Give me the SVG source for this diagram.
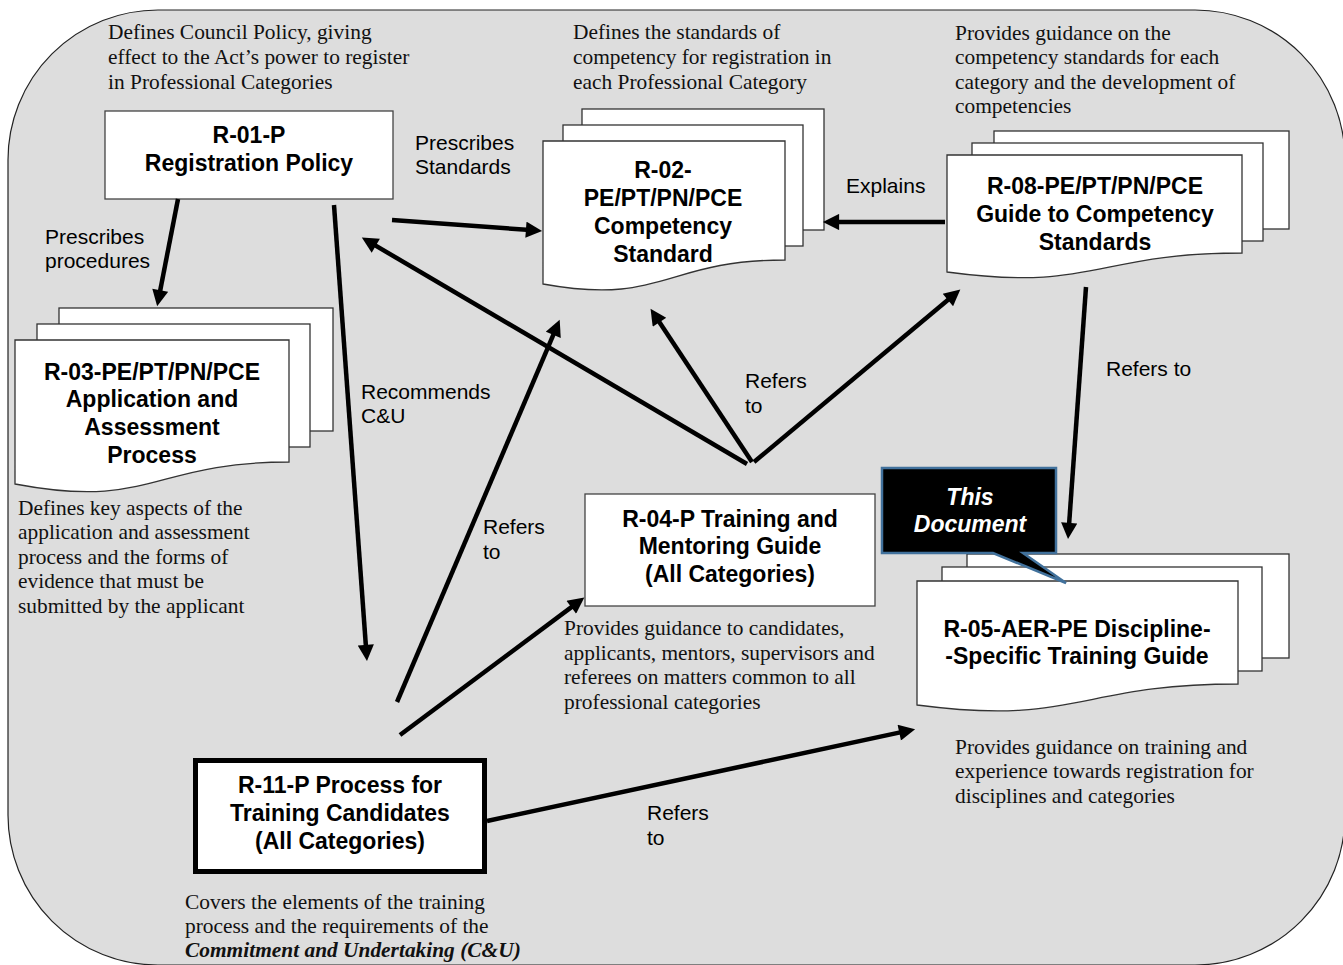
<svg xmlns="http://www.w3.org/2000/svg" width="1343" height="965" viewBox="0 0 1343 965">
<defs>
<style>
.bg{fill:#dddddd;stroke:#222;stroke-width:1.2}
.page{fill:#fff;stroke:#333;stroke-width:1.3}
.box{fill:#fff;stroke:#444;stroke-width:1.3}
.nt{font-family:"Liberation Sans",Arial,sans-serif;font-weight:bold;font-size:23px;fill:#000;text-anchor:middle}
.an{font-family:"Liberation Serif","Times New Roman",serif;font-size:21.4px;fill:#111}
.lb{font-family:"Liberation Sans",Arial,sans-serif;font-size:21px;fill:#000}
.cn{stroke:#000;stroke-width:4.5;fill:none;marker-end:url(#ah)}
</style>
<marker id="ah" viewBox="0 0 10 10" refX="5" refY="5" markerWidth="4" markerHeight="3.6" orient="auto" markerUnits="strokeWidth">
<path d="M0,0 L10,5 L0,10 Z" fill="#000"/>
</marker>
</defs>
<rect class="bg" x="8" y="10" width="1337" height="955" rx="150" ry="150"/>

<g id="r01">
<text class="an" x="108" y="39">Defines Council Policy, giving</text>
<text class="an" x="108" y="64">effect to the Act’s power to register</text>
<text class="an" x="108" y="89">in Professional Categories</text>
<rect class="box" x="105" y="111" width="288" height="88"/>
<text class="nt" x="249" y="143">R-01-P</text>
<text class="nt" x="249" y="171">Registration Policy</text>
</g>

<g id="r02">
<text class="an" x="573" y="39">Defines the standards of</text>
<text class="an" x="573" y="64">competency for registration in</text>
<text class="an" x="573" y="89">each Professional Category</text>
<rect class="page" x="582" y="109" width="242" height="121"/>
<rect class="page" x="563" y="125" width="240" height="121"/>
<path class="page" d="M543,141 H785 V260 C664,260 664,306 543,284 Z"/>
<text class="nt" x="663" y="178">R-02-</text>
<text class="nt" x="663" y="206">PE/PT/PN/PCE</text>
<text class="nt" x="663" y="234">Competency</text>
<text class="nt" x="663" y="262">Standard</text>
</g>

<g id="r08">
<text class="an" x="955" y="40">Provides guidance on the</text>
<text class="an" x="955" y="64">competency standards for each</text>
<text class="an" x="955" y="89">category and the development of</text>
<text class="an" x="955" y="113">competencies</text>
<rect class="page" x="994" y="131" width="295" height="98"/>
<rect class="page" x="972" y="143" width="291" height="98"/>
<path class="page" d="M947,155 H1242 V253 C1095,253 1095,292 947,272 Z"/>
<text class="nt" x="1095" y="194">R-08-PE/PT/PN/PCE</text>
<text class="nt" x="1095" y="222">Guide to Competency</text>
<text class="nt" x="1095" y="250">Standards</text>
</g>

<g id="r03">
<rect class="page" x="59" y="308" width="274" height="123"/>
<rect class="page" x="37" y="324" width="273" height="123"/>
<path class="page" d="M15,340 H289 V462 C152,462 152,510 15,484 Z"/>
<text class="nt" x="152" y="380">R-03-PE/PT/PN/PCE</text>
<text class="nt" x="152" y="407">Application and</text>
<text class="nt" x="152" y="435">Assessment</text>
<text class="nt" x="152" y="463">Process</text>
<text class="an" x="18" y="515">Defines key aspects of the</text>
<text class="an" x="18" y="539">application and assessment</text>
<text class="an" x="18" y="564">process and the forms of</text>
<text class="an" x="18" y="588">evidence that must be</text>
<text class="an" x="18" y="613">submitted by the applicant</text>
</g>

<g id="r04">
<rect class="box" x="585" y="494" width="290" height="112"/>
<text class="nt" x="730" y="527">R-04-P Training and</text>
<text class="nt" x="730" y="554">Mentoring Guide</text>
<text class="nt" x="730" y="582">(All Categories)</text>
<text class="an" x="564" y="635">Provides guidance to candidates,</text>
<text class="an" x="564" y="660">applicants, mentors, supervisors and</text>
<text class="an" x="564" y="684">referees on matters common to all</text>
<text class="an" x="564" y="709">professional categories</text>
</g>

<g id="r05">
<rect class="page" x="967" y="554" width="322" height="104"/>
<rect class="page" x="942" y="567" width="320" height="104"/>
<path class="page" d="M917,581 H1238 V684 C1078,684 1078,726 917,705 Z"/>
<text class="nt" x="1077" y="637">R-05-AER-PE Discipline-</text>
<text class="nt" x="1077" y="664">-Specific Training Guide</text>
<text class="an" x="955" y="754">Provides guidance on training and</text>
<text class="an" x="955" y="778">experience towards registration for</text>
<text class="an" x="955" y="803">disciplines and categories</text>
</g>

<g id="this-document">
<path d="M882,468 H1056 V553 H1023 L1066,583 L993,553 H882 Z" fill="#000" stroke="#41719c" stroke-width="2.5" stroke-linejoin="miter"/>
<text class="nt" x="970" y="505" style="fill:#fff;font-style:italic">This</text>
<text class="nt" x="970" y="532" style="fill:#fff;font-style:italic">Document</text>
</g>

<g id="r11">
<rect x="195.5" y="760.5" width="289" height="111" fill="#fff" stroke="#000" stroke-width="5"/>
<text class="nt" x="340" y="793">R-11-P Process for</text>
<text class="nt" x="340" y="821">Training Candidates</text>
<text class="nt" x="340" y="849">(All Categories)</text>
<text class="an" x="185" y="909">Covers the elements of the training</text>
<text class="an" x="185" y="933">process and the requirements of the</text>
<text class="an" x="185" y="957" font-weight="bold" font-style="italic">Commitment and Undertaking (C&amp;U)</text>
</g>

<g id="connectors">
<line class="cn" x1="178" y1="199" x2="158.7" y2="298.2"/>
<line class="cn" x1="334" y1="205" x2="366.4" y2="653"/>
<line class="cn" x1="392" y1="220" x2="534" y2="230.3"/>
<line class="cn" x1="945" y1="222" x2="831" y2="222"/>
<line class="cn" x1="397" y1="702" x2="556.5" y2="327.3"/>
<line class="cn" x1="400" y1="735" x2="577.8" y2="602.4"/>
<line class="cn" x1="747" y1="464" x2="368.8" y2="241.6"/>
<line class="cn" x1="752" y1="462" x2="655" y2="315.5"/>
<line class="cn" x1="754" y1="462" x2="954.1" y2="294.8"/>
<line class="cn" x1="1086" y1="287" x2="1068.6" y2="531"/>
<line class="cn" x1="487" y1="821" x2="907.2" y2="730.9"/>
<text class="lb" x="45" y="244">Prescribes</text>
<text class="lb" x="45" y="268">procedures</text>
<text class="lb" x="361" y="399">Recommends</text>
<text class="lb" x="361" y="423">C&amp;U</text>
<text class="lb" x="415" y="150">Prescribes</text>
<text class="lb" x="415" y="174">Standards</text>
<text class="lb" x="846" y="193">Explains</text>
<text class="lb" x="745" y="388">Refers</text>
<text class="lb" x="745" y="413">to</text>
<text class="lb" x="1106" y="376">Refers to</text>
<text class="lb" x="483" y="534">Refers</text>
<text class="lb" x="483" y="559">to</text>
<text class="lb" x="647" y="820">Refers</text>
<text class="lb" x="647" y="845">to</text>
</g>
</svg>
